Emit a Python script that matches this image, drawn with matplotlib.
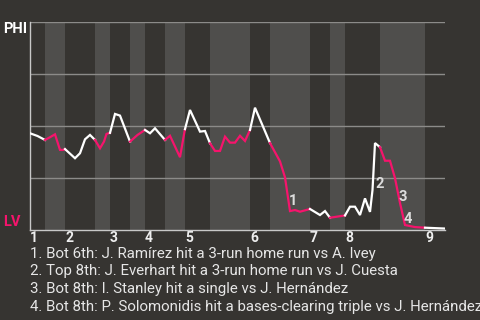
import numpy as np
import matplotlib
matplotlib.use("Agg")
import matplotlib.pyplot as plt

plt.rcParams['font.family'] = ['Roboto', 'DejaVu Sans']

# play index and PHI win probability
plays = [0, 1.5, 3, 4, 5, 6, 6.6, 7, 9, 10, 11, 12, 13, 14, 14.8, 15.3, 16,
         17, 18, 20, 21.5, 23, 24, 25, 27, 28, 30, 30.9, 31, 32, 34, 35, 36,
         37, 38, 39, 40, 41, 42, 43, 44, 45, 48, 50, 51, 52, 53, 54, 56,
         58, 59, 60, 63, 64, 65, 66, 67, 68, 68.5, 69, 70,
         71, 72, 73, 74, 75, 77, 79, 83]
win_prob = [0.465, 0.452, 0.433, 0.446, 0.46, 0.385, 0.385, 0.389, 0.345, 0.369,
            0.436, 0.457, 0.433, 0.393, 0.425, 0.462, 0.467,
            0.558, 0.55, 0.425, 0.457, 0.481, 0.465, 0.489, 0.433, 0.453, 0.35,
            0.473, 0.485, 0.577, 0.473, 0.476, 0.417,
            0.38, 0.38, 0.449, 0.42, 0.42, 0.453, 0.428, 0.481, 0.588, 0.418,
            0.33, 0.253, 0.091, 0.096, 0.088, 0.101,
            0.072, 0.091, 0.059, 0.07, 0.112, 0.112, 0.072, 0.152, 0.087, 0.192,
            0.418, 0.398,
            0.333, 0.333, 0.249, 0.13, 0.024, 0.014, 0.011, 0.007]

# half-inning boundaries (play index), first half = top of 1st
half_starts = [0, 3, 7, 13, 16, 20, 23, 27, 31, 36, 44, 48, 56, 60, 63, 70, 79, 83]
innings = ['1', '2', '3', '4', '5', '6', '7', '8', '9']

# key plays: where the number label goes
key_x = [52.6, 69.9, 74.5, 75.6]
key_y = [0.14, 0.22, 0.16, 0.055]
key_labels = ['1', '2', '3', '4']
notes = [
    "1. Bot 6th: J. Ramírez hit a 3-run home run vs A. Ivey",
    "2. Top 8th: J. Everhart hit a 3-run home run vs J. Cuesta",
    "3. Bot 8th: I. Stanley hit a single vs J. Hernández",
    "4. Bot 8th: P. Solomonidis hit a bases-clearing triple vs J. Hernández",
]

bg = '#363431'
band = '#4f4e4c'
pink = '#f5146c'
grid = '#8c8b89'

fig = plt.figure(figsize=(4.8, 3.2), dpi=100, facecolor=bg)
ax = fig.add_axes([30 / 480, 90 / 320, 415 / 480, 208 / 320])
ax.set_facecolor(bg)

x = np.array(plays)
y = np.array(win_prob)

for i in range(len(half_starts) - 1):
    a, b = half_starts[i], half_starts[i + 1]
    if i % 2 == 1:
        ax.axvspan(a, b, color=band, lw=0, zorder=0)
    m = (x >= a) & (x <= b)
    ax.plot(x[m], y[m], color='white' if i % 2 == 0 else pink, lw=1.6,
            solid_joinstyle='miter', zorder=3)

for gy in [0.25, 0.5, 0.75, 1.0]:
    ax.axhline(gy, color=grid, lw=1, zorder=1)

for kx, ky, lab in zip(key_x, key_y, key_labels):
    ax.text(kx, ky, lab, color='#dddddd', fontsize=10.5, fontweight='bold',
            ha='center', va='center', zorder=4)

ax.set_xlim(0, half_starts[-1])
ax.set_ylim(0, 1)
ax.set_yticks([])
ax.set_xticks(half_starts[0:-1:2])
ax.set_xticklabels(innings, color='#eeeeee', fontsize=10, fontweight='bold',
                   ha='left')
ax.tick_params(axis='x', length=0, pad=1)
for s in ['top', 'right']:
    ax.spines[s].set_visible(False)
for s in ['left', 'bottom']:
    ax.spines[s].set_color('#c8c8c8')
    ax.spines[s].set_linewidth(1)

fig.text(3 / 480, 1 - 33.3 / 320, 'PHI', color='white', fontsize=10.5,
         fontweight='bold', va='baseline')
fig.text(3 / 480, 1 - 226 / 320, 'LV', color=pink, fontsize=10.5,
         fontweight='bold', va='baseline')

for k, note in enumerate(notes):
    fig.text(30 / 480, 1 - (257.7 + 17.7 * k) / 320, note, color='#e6e6e6',
             fontsize=10.8, va='baseline')

fig.savefig('out.png', dpi=100, facecolor=bg)
